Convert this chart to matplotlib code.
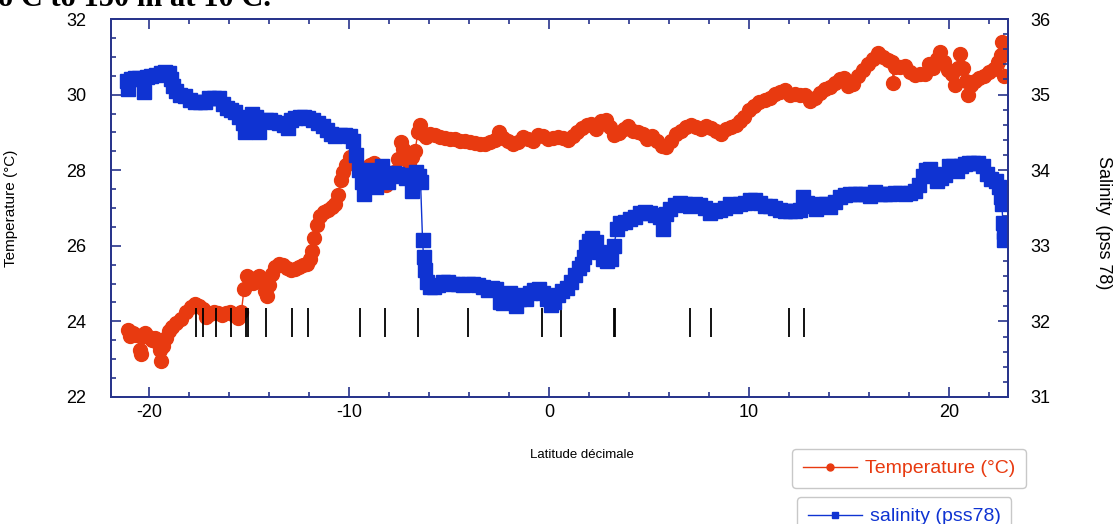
import matplotlib
matplotlib.use("Agg")
import matplotlib.pyplot as plt
from matplotlib.lines import Line2D
from matplotlib.ticker import MultipleLocator

plt.rcParams['font.family'] = ['Liberation Sans', 'DejaVu Sans']
plt.rcParams['axes.unicode_minus'] = False

# Temperature (°C) along the transect
lat_temp = [-21.05, -20.95, -20.8, -20.65, -20.45, -20.38, -20.3, -20.2, -20.0, -19.85,
            -19.7, -19.55, -19.45, -19.38, -19.3, -19.15, -19.0, -18.85, -18.65, -18.4,
            -18.15, -17.9, -17.7, -17.5, -17.3, -17.15, -16.95, -16.75, -16.55, -16.35,
            -16.15, -15.95, -15.75, -15.55, -15.38, -15.25, -15.1, -14.95, -14.8, -14.65,
            -14.5, -14.35, -14.2, -14.12, -14.0, -13.85, -13.7, -13.5, -13.3, -13.1,
            -12.9, -12.7, -12.5, -12.3, -12.1, -11.95, -11.85, -11.75, -11.6, -11.45,
            -11.25, -11.05, -10.85, -10.7, -10.55, -10.42, -10.3, -10.15, -9.95, -9.75,
            -9.55, -9.35, -9.15, -8.95, -8.75, -8.55, -8.35, -8.15, -7.95, -7.75,
            -7.55, -7.42, -7.3, -7.15, -7.0, -6.85, -6.7, -6.55, -6.45, -6.3,
            -6.15, -5.95, -5.7, -5.45, -5.2, -4.95, -4.7, -4.45, -4.2, -3.95,
            -3.7, -3.45, -3.2, -2.95, -2.7, -2.5, -2.3, -2.05, -1.8, -1.55,
            -1.3, -1.05, -0.8, -0.55, -0.3, -0.05, 0.2, 0.45, 0.7, 0.95,
            1.2, 1.4, 1.65, 1.9, 2.1, 2.35, 2.6, 2.85, 3.05, 3.25,
            3.5, 3.75, 3.95, 4.2, 4.45, 4.7, 4.9, 5.15, 5.4, 5.65,
            5.85, 6.1, 6.35, 6.6, 6.85, 7.1, 7.35, 7.6, 7.85, 8.1,
            8.35, 8.6, 8.85, 9.1, 9.35, 9.55, 9.75, 10.0, 10.25, 10.5,
            10.8, 11.05, 11.3, 11.55, 11.8, 12.05, 12.3, 12.55, 12.8, 13.05,
            13.3, 13.55, 13.8, 14.05, 14.3, 14.55, 14.75, 14.95, 15.2, 15.45,
            15.7, 15.95, 16.2, 16.45, 16.7, 16.95, 17.15, 17.23, 17.3, 17.55,
            17.8, 18.05, 18.3, 18.55, 18.8, 19.0, 19.2, 19.4, 19.55, 19.75,
            19.95, 20.15, 20.3, 20.45, 20.57, 20.7, 20.85, 20.98, 21.1, 21.3,
            21.5, 21.75, 22.0, 22.25, 22.45, 22.6, 22.66, 22.72, 22.75]
temperature = [23.78, 23.62, 23.70, 23.64, 23.25, 23.15, 23.62, 23.70, 23.58, 23.50,
               23.55, 23.42, 23.25, 22.96, 23.35, 23.55, 23.75, 23.85, 23.95, 24.06,
               24.25, 24.37, 24.45, 24.42, 24.33, 24.12, 24.20, 24.25, 24.22, 24.18,
               24.22, 24.25, 24.18, 24.10, 24.25, 24.85, 25.20, 25.12, 25.02, 25.15,
               25.20, 25.05, 24.80, 24.68, 24.95, 25.25, 25.43, 25.52, 25.48, 25.40,
               25.35, 25.38, 25.43, 25.48, 25.52, 25.65, 25.85, 26.20, 26.55, 26.80,
               26.90, 26.95, 27.02, 27.10, 27.35, 27.75, 27.95, 28.15, 28.35, 28.35,
               28.15, 27.95, 28.05, 28.15, 28.20, 28.10, 27.75, 27.60, 27.80, 27.95,
               28.30, 28.75, 28.55, 28.30, 28.20, 28.35, 28.50, 29.00, 29.20, 28.95,
               28.88, 28.95, 28.92, 28.88, 28.85, 28.83, 28.82, 28.78, 28.78, 28.74,
               28.72, 28.70, 28.70, 28.74, 28.80, 29.00, 28.85, 28.76, 28.70, 28.75,
               28.87, 28.82, 28.78, 28.92, 28.90, 28.83, 28.85, 28.88, 28.86, 28.80,
               28.90, 29.00, 29.12, 29.20, 29.22, 29.10, 29.30, 29.32, 29.15, 28.92,
               28.98, 29.10, 29.18, 29.05, 29.00, 28.95, 28.83, 28.90, 28.78, 28.65,
               28.62, 28.78, 28.95, 29.05, 29.13, 29.20, 29.15, 29.10, 29.18, 29.12,
               29.05, 28.96, 29.08, 29.15, 29.20, 29.30, 29.42, 29.60, 29.70, 29.80,
               29.85, 29.92, 30.02, 30.08, 30.12, 29.98, 30.02, 30.00, 29.98, 29.82,
               29.90, 30.05, 30.15, 30.20, 30.30, 30.40, 30.45, 30.22, 30.28, 30.48,
               30.65, 30.80, 30.95, 31.10, 31.00, 30.92, 30.85, 30.32, 30.72, 30.72,
               30.75, 30.60, 30.52, 30.55, 30.55, 30.82, 30.70, 30.95, 31.12, 30.85,
               30.65, 30.55, 30.25, 30.70, 31.07, 30.70, 30.35, 29.98, 30.25, 30.35,
               30.45, 30.50, 30.60, 30.68, 30.85, 31.05, 31.38, 31.05, 30.50]

# Salinity (pss 78) along the transect
lat_sal = [-21.1, -21.05, -20.9, -20.7, -20.5, -20.3, -20.23, -20.1, -19.9, -19.65,
           -19.4, -19.2, -19.0, -18.9, -18.8, -18.65, -18.45, -18.2, -17.95, -17.7,
           -17.45, -17.2, -17.0, -16.75, -16.5, -16.3, -16.1, -15.9, -15.7, -15.5,
           -15.3, -15.2, -15.05, -14.85, -14.65, -14.5, -14.35, -14.15, -13.95, -13.75,
           -13.5, -13.25, -13.05, -12.9, -12.7, -12.45, -12.25, -12.05, -11.8, -11.55,
           -11.3, -11.1, -10.9, -10.7, -10.45, -10.2, -9.95, -9.8, -9.65, -9.5,
           -9.35, -9.25, -9.1, -8.95, -8.8, -8.65, -8.5, -8.35, -8.2, -8.05,
           -7.9, -7.75, -7.6, -7.45, -7.3, -7.15, -7.0, -6.85, -6.75, -6.65,
           -6.5, -6.42, -6.32, -6.27, -6.22, -6.12, -5.95, -5.75, -5.55, -5.3,
           -5.05, -4.8, -4.55, -4.3, -4.05, -3.8, -3.55, -3.3, -3.05, -2.85,
           -2.65, -2.45, -2.3, -2.15, -1.95, -1.8, -1.65, -1.5, -1.35, -1.15,
           -0.95, -0.75, -0.5, -0.3, -0.1, 0.1, 0.25, 0.45, 0.65, 0.9,
           1.1, 1.3, 1.5, 1.65, 1.75, 1.85, 2.0, 2.15, 2.35, 2.5,
           2.7, 2.9, 3.1, 3.25, 3.4, 3.55, 3.8, 4.05, 4.3, 4.55,
           4.8, 5.05, 5.3, 5.55, 5.7, 5.85, 6.05, 6.3, 6.55, 6.8,
           7.05, 7.3, 7.55, 7.8, 8.05, 8.3, 8.55, 8.8, 9.05, 9.3,
           9.55, 9.8, 10.05, 10.3, 10.55, 10.8, 11.05, 11.3, 11.55, 11.8,
           12.05, 12.3, 12.55, 12.7, 12.9, 13.1, 13.35, 13.6, 13.85, 14.05,
           14.3, 14.55, 14.8, 15.05, 15.3, 15.55, 15.8, 16.05, 16.3, 16.55,
           16.8, 17.05, 17.3, 17.55, 17.8, 18.05, 18.3, 18.5, 18.7, 18.85,
           19.05, 19.25, 19.4, 19.6, 19.8, 20.0, 20.2, 20.4, 20.6, 20.8,
           21.0, 21.2, 21.45, 21.7, 21.9, 22.1, 22.35, 22.5, 22.6, 22.65,
           22.71, 22.74, 22.77]
salinity = [35.18, 35.07, 35.20, 35.22, 35.22, 35.20, 35.04, 35.23, 35.25, 35.26,
            35.28, 35.30, 35.29, 35.20, 35.12, 35.05, 35.00, 34.98, 34.93, 34.90,
            34.90, 34.90, 34.95, 34.96, 34.95, 34.88, 34.82, 34.80, 34.77, 34.70,
            34.62, 34.50, 34.68, 34.74, 34.70, 34.50, 34.65, 34.66, 34.66, 34.64,
            34.62, 34.60, 34.56, 34.66, 34.69, 34.71, 34.71, 34.69, 34.67, 34.63,
            34.58, 34.53, 34.48, 34.45, 34.47, 34.47, 34.45, 34.38, 34.20, 34.00,
            33.85, 33.68, 33.98, 34.00, 33.95, 33.78, 33.95, 34.06, 33.92, 33.85,
            33.93, 33.96, 33.95, 33.92, 33.93, 33.90, 33.92, 33.72, 33.85, 33.97,
            33.92, 33.85, 33.08, 32.85, 32.68, 32.52, 32.46, 32.45, 32.48, 32.52,
            32.52, 32.50, 32.49, 32.48, 32.49, 32.49, 32.48, 32.46, 32.41, 32.44,
            32.43, 32.26, 32.24, 32.32, 32.38, 32.30, 32.21, 32.30, 32.35, 32.30,
            32.38, 32.42, 32.43, 32.38, 32.30, 32.22, 32.25, 32.35, 32.40, 32.44,
            32.52, 32.62, 32.70, 32.76, 32.85, 32.98, 33.06, 33.10, 33.05, 32.92,
            32.83, 32.80, 32.83, 33.00, 33.22, 33.30, 33.32, 33.35, 33.38, 33.43,
            33.45, 33.44, 33.41, 33.38, 33.22, 33.42, 33.49, 33.54, 33.56, 33.55,
            33.53, 33.55, 33.54, 33.50, 33.44, 33.46, 33.48, 33.50, 33.55, 33.53,
            33.55, 33.57, 33.60, 33.60, 33.57, 33.53, 33.53, 33.50, 33.47, 33.46,
            33.46, 33.46, 33.47, 33.64, 33.57, 33.52, 33.49, 33.55, 33.55, 33.51,
            33.58, 33.64, 33.67, 33.68, 33.69, 33.69, 33.68, 33.66, 33.71, 33.69,
            33.69, 33.69, 33.70, 33.70, 33.69, 33.70, 33.72, 33.80, 33.92, 34.00,
            34.02, 33.95, 33.86, 33.90, 33.94, 34.05, 34.06, 33.99, 34.05, 34.08,
            34.10, 34.10, 34.10, 34.06, 33.95, 33.88, 33.86, 33.78, 33.65, 33.55,
            33.30, 33.18, 33.08]

# station marks (latitude)
stations = [-17.63, -17.31, -16.64, -15.89, -15.16, -15.04, -14.14, -12.83, -12.03, -9.43,
            -8.18, -6.57, -4.06, -0.35, 0.59, 3.28, 3.33, 7.07, 8.12, 12.0, 12.76]

red = '#e83a10'
blue = '#0f33d2'
navy = '#27348b'

fig = plt.figure(figsize=(11.18, 5.24), dpi=100)
ax = fig.add_axes([0.0993, 0.2424, 0.8023, 0.7213])

ax.plot(lat_temp, temperature, '-o', color=red, ms=10, lw=1, mec=red, zorder=2)
ax.vlines(stations, 23.6, 24.35, color='black', lw=1.3, zorder=3)

ax2 = ax.twinx()
ax2.plot(lat_sal, salinity, '-s', color=blue, ms=9.5, lw=1, mec=blue, zorder=2)

ax.set_xlim(-21.9, 22.96)
ax.set_ylim(22, 32)
ax2.set_ylim(31, 36)

ax.xaxis.set_major_locator(MultipleLocator(10))
ax.xaxis.set_minor_locator(MultipleLocator(2))
ax.yaxis.set_major_locator(MultipleLocator(2))
ax.yaxis.set_minor_locator(MultipleLocator(0.5))
ax2.yaxis.set_major_locator(MultipleLocator(1))
ax2.yaxis.set_minor_locator(MultipleLocator(0.2))

for a in (ax, ax2):
    a.tick_params(which='both', direction='in', color=navy, width=1.2, labelsize=13)
    a.tick_params(which='major', length=7)
    a.tick_params(which='minor', length=3.5)
    for sp in a.spines.values():
        sp.set_color(navy)
        sp.set_linewidth(1.3)
ax.tick_params(axis='x', which='both', top=True, pad=5)
ax.tick_params(axis='y', which='both', right=False, pad=18)
ax2.tick_params(axis='y', which='both', pad=16)

ax.set_ylabel('Temperature (°C)', fontsize=11)
ax.yaxis.set_label_coords(-0.104, 0.5)
ax2.set_ylabel('Salinity  (pss 78)', fontsize=13, rotation=270, va='center')
ax2.yaxis.set_label_coords(1.106, 0.46)

fig.text(582 / 1118, 1 - 455 / 524, 'Latitude décimale', fontsize=9.5, ha='center', va='center')

# clipped heading at the very top
fig.text(-0.002, 1 - 6 / 524, 'o C to 150 m at 10 C.', fontsize=22, fontweight='bold',
         family='Liberation Serif', va='baseline')

h1 = Line2D([], [], color=red, marker='o', ms=5, lw=1)
h2 = Line2D([], [], color=blue, marker='s', ms=5, lw=1)
for h, lab, col, anchor in [(h1, 'Temperature (°C)', red, (792 / 1118, 1 - 449 / 524)),
                            (h2, 'salinity (pss78)', blue, (797 / 1118, 1 - 497 / 524))]:
    fig.legend([h], [lab], loc='upper left', bbox_to_anchor=anchor, fontsize=14,
               labelcolor=col, frameon=True, fancybox=True, edgecolor='#c8c8c8',
               framealpha=1, handlelength=2.8, handletextpad=0.4, borderpad=0.55,
               borderaxespad=0)

fig.savefig('out.png', dpi=100)
